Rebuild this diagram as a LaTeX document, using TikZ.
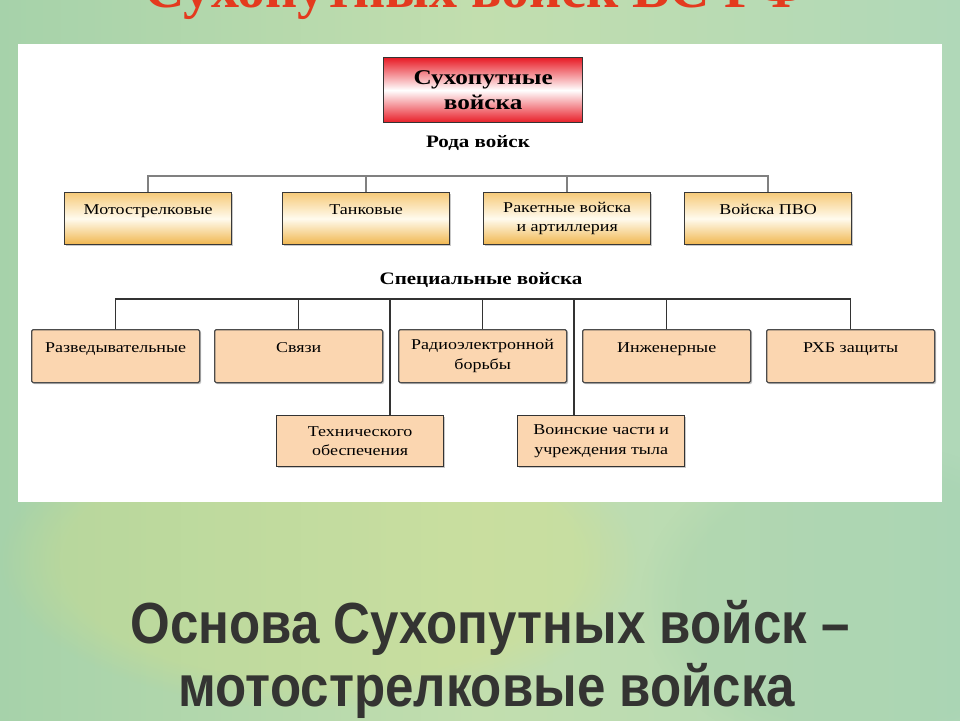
\documentclass[tikz,border=0pt]{standalone}
\usepackage{fontspec}
\setmainfont{Liberation Serif}
\newfontfamily\boxfont[FakeStretch=1.2]{Liberation Serif}
\newfontfamily\bigsans{Liberation Sans}
\usetikzlibrary{shadows,fadings}

\definecolor{bgA}{RGB}{166,210,170}
\definecolor{bgB}{RGB}{194,222,174}
\definecolor{bgC}{RGB}{176,216,184}
\definecolor{titlered}{RGB}{228,58,30}
\definecolor{boxred}{RGB}{232,28,38}
\definecolor{orTop}{RGB}{246,202,122}
\definecolor{orBot}{RGB}{240,182,78}
\definecolor{orMid}{RGB}{255,251,238}
\definecolor{peach}{RGB}{251,214,176}
\definecolor{bigtext}{RGB}{52,52,50}

\begin{document}
\begin{tikzpicture}[x=1pt,y=-1pt,
  boxbase/.style={anchor=north west, inner sep=0pt, align=center,
    font=\boxfont\fontsize{15}{19.5}\selectfont,
    drop shadow={shadow xshift=1.5pt, shadow yshift=-1.5pt, fill=black!35, opacity=0.6}},
  rowa/.style={boxbase, draw=black!78, line width=1.3pt,
    minimum width=167pt, minimum height=52pt,
    top color=orTop, bottom color=orBot, middle color=orMid},
  rowb/.style={boxbase, draw=black!70, line width=1.3pt, rounded corners=1.5pt,
    minimum width=168pt, minimum height=53pt, fill=peach},
  rowc/.style={boxbase, draw=black!80, line width=1.4pt,
    minimum width=167pt, minimum height=51pt, fill=peach},
  topbox/.style={anchor=north west, inner sep=0pt, align=center,
    draw=black!80, line width=1.3pt, minimum width=199pt, minimum height=65pt,
    top color=boxred, bottom color=boxred, middle color=white,
    font=\boxfont\bfseries\fontsize{21}{25}\selectfont},
  lab/.style={inner sep=0pt, font=\boxfont\bfseries\fontsize{17.5}{20}\selectfont},
  connA/.style={draw=black!50, line width=1.8pt},
  connB/.style={draw=black!80, line width=1.6pt},
  bigline/.style={inner sep=0pt, anchor=base, text=bigtext,
    font=\bigsans\bfseries\fontsize{58}{64}\selectfont},
]
\clip (0,0) rectangle (960,720);
% background
\shade[left color=bgA, right color=bgC, middle color=bgB] (0,0) rectangle (960,720);
\fill[yellow!35!bgB, opacity=0.3, path fading=circle with fuzzy edge 20 percent]
  (320,560) ellipse (320 and 150);
\fill[bgA!90!teal, opacity=0.2, path fading=circle with fuzzy edge 20 percent]
  (860,600) ellipse (220 and 160);

% cut-off title
\node[inner sep=0pt, anchor=base, text=titlered,
  font=\bfseries\fontsize{56}{60}\selectfont] (title) at (475,8) {Сухопутных войск ВС РФ};

% white panel
\fill[white] (18,44) rectangle (942,502);

% top box
\node[topbox] (top) at (383,57) {Сухопутные\\войска};
\node[lab] (rod) at (478,143) {Рода войск};

% row 1
\node[rowa, text height=22pt, text depth=30pt] (m1) at (64,192) {Мотострелковые};
\node[rowa, text height=22pt, text depth=30pt] (m2) at (282,192) {Танковые};
\node[rowa] (m3) at (483,192) {Ракетные войска\\и артиллерия};
\node[rowa, text height=22pt, text depth=30pt] (m4) at (684,192) {Войска ПВО};

\coordinate (busA) at (0,176);
\draw[connA] (m1.north) -- (m1.north |- busA) -- (m4.north |- busA) -- (m4.north);
\draw[connA] (m2.north) -- (m2.north |- busA);
\draw[connA] (m3.north) -- (m3.north |- busA);

% special troops
\node[lab] (spec) at (481,280) {Специальные войска};

\node[rowb, text height=23pt, text depth=30pt] (s1) at (31,329) {Разведывательные};
\node[rowb, text height=23pt, text depth=30pt] (s2) at (214,329) {Связи};
\node[rowb] (s3) at (398,329) {Радиоэлектронной\\борьбы};
\node[rowb, text height=23pt, text depth=30pt] (s4) at (582,329) {Инженерные};
\node[rowb, text height=23pt, text depth=30pt] (s5) at (766,329) {РХБ защиты};

\node[rowc] (t1) at (276,415) {Технического\\обеспечения};
\node[rowc] (t2) at (517,415) {Воинские части и\\учреждения тыла};

\coordinate (busB) at (0,299);
\coordinate (jt1) at (390,299);
\coordinate (jt2) at (574,299);
\draw[connB] (s1.north) -- (s1.north |- busB) -- (s5.north |- busB) -- (s5.north);
\draw[connB] (s2.north) -- (s2.north |- busB);
\draw[connB] (s3.north) -- (s3.north |- busB);
\draw[connB] (s4.north) -- (s4.north |- busB);
\draw[connB] (jt1) -- (jt1 |- t1.north);
\draw[connB] (jt2) -- (jt2 |- t2.north);

% bottom text
\node[bigline] (l1) at (490,643) {\scalebox{0.88}[1]{Основа Сухопутных войск –}};
\node[bigline] (l2) at (487,706) {\scalebox{0.88}[1]{мотострелковые войска}};
\end{tikzpicture}
\end{document}
